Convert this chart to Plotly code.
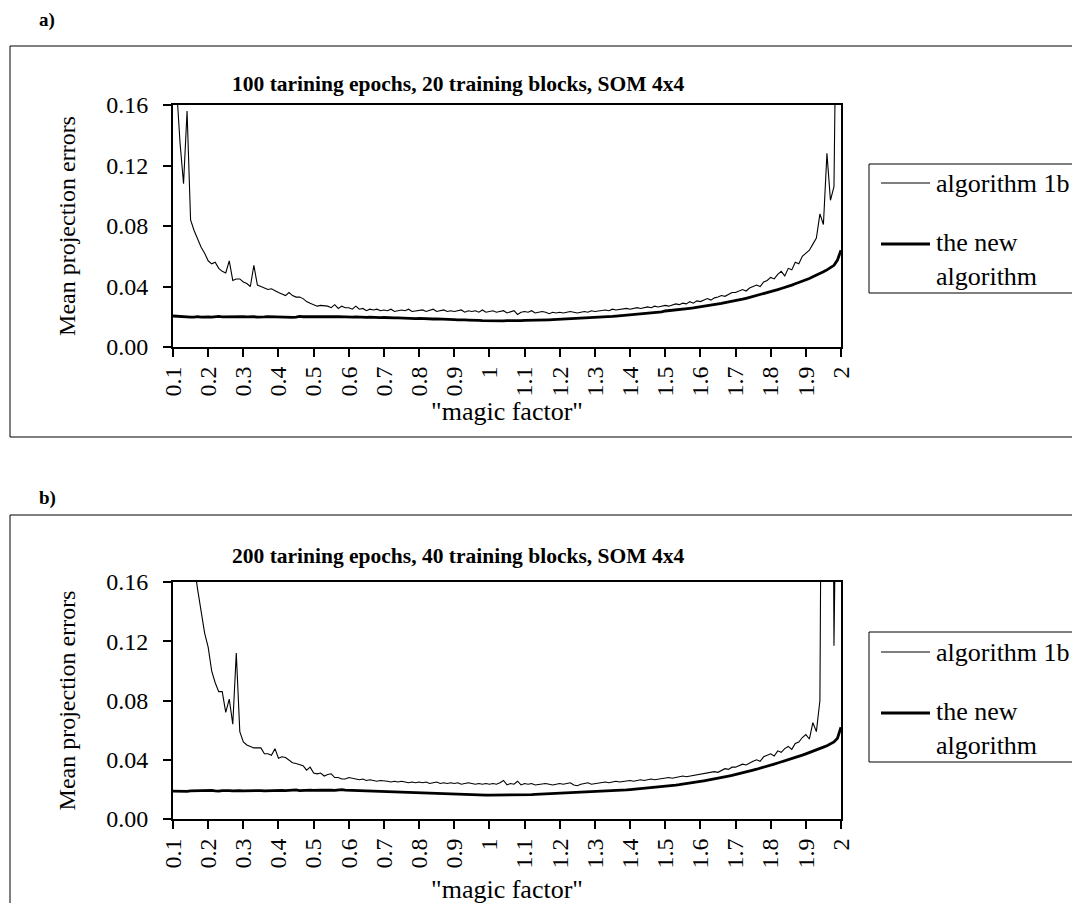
import plotly.graph_objects as go

# ---------------- data ----------------
magic_factor = [round(0.10 + 0.01 * i, 2) for i in range(191)]

tick_values = [0.1, 0.2, 0.3, 0.4, 0.5, 0.6, 0.7, 0.8, 0.9, 1.0,
               1.1, 1.2, 1.3, 1.4, 1.5, 1.6, 1.7, 1.8, 1.9, 2.0]
tick_labels = ["0.1", "0.2", "0.3", "0.4", "0.5", "0.6", "0.7", "0.8", "0.9", "1",
               "1.1", "1.2", "1.3", "1.4", "1.5", "1.6", "1.7", "1.8", "1.9", "2"]
y_ticks = [0.00, 0.04, 0.08, 0.12, 0.16]
y_labels = ["0.00", "0.04", "0.08", "0.12", "0.16"]

# panel a) 100 epochs, 20 blocks
alg1b_a = [
    0.200, 0.172, 0.135, 0.108, 0.156, 0.084, 0.077, 0.071, 0.066, 0.062,
    0.057, 0.055, 0.056, 0.052, 0.050, 0.049, 0.057, 0.044, 0.045, 0.045,
    0.043, 0.042, 0.040, 0.054, 0.041, 0.040, 0.039, 0.038, 0.0385, 0.037,
    0.036, 0.035, 0.034, 0.036, 0.034, 0.033, 0.033, 0.032, 0.030, 0.029,
    0.028, 0.027, 0.0275, 0.027, 0.027, 0.026, 0.028, 0.0255, 0.027, 0.026,
    0.026, 0.025, 0.027, 0.025, 0.0255, 0.024, 0.025, 0.0245, 0.025, 0.024,
    0.0245, 0.024, 0.025, 0.0235, 0.024, 0.0245, 0.024, 0.025, 0.0235, 0.024,
    0.024, 0.0245, 0.0235, 0.024, 0.025, 0.0235, 0.024, 0.0245, 0.0235, 0.024,
    0.0235, 0.024, 0.0245, 0.023, 0.024, 0.0235, 0.024, 0.023, 0.0245, 0.023,
    0.0235, 0.024, 0.023, 0.0235, 0.024, 0.0225, 0.023, 0.024, 0.0215, 0.023,
    0.0235, 0.023, 0.024, 0.0225, 0.023, 0.0235, 0.023, 0.022, 0.023, 0.0225,
    0.023, 0.0225, 0.023, 0.0235, 0.023, 0.0225, 0.023, 0.0235, 0.023, 0.024,
    0.0235, 0.024, 0.024, 0.0245, 0.024, 0.025, 0.0245, 0.025, 0.025, 0.0255,
    0.025, 0.0255, 0.026, 0.0255, 0.026, 0.0265, 0.026, 0.027, 0.0265, 0.027,
    0.0275, 0.027, 0.028, 0.0285, 0.028, 0.029, 0.0285, 0.030, 0.029, 0.0305,
    0.030, 0.031, 0.032, 0.031, 0.0325, 0.033, 0.034, 0.0335, 0.035, 0.036,
    0.036, 0.037, 0.038, 0.037, 0.039, 0.040, 0.041, 0.040, 0.043, 0.044,
    0.046, 0.045, 0.048, 0.050, 0.047, 0.052, 0.051, 0.056, 0.055, 0.060,
    0.062, 0.064, 0.068, 0.072, 0.088, 0.081, 0.128, 0.097, 0.106, 0.400,
    0.500,
]
new_a = [
    0.0205, 0.0203, 0.0200, 0.0198, 0.0200, 0.0197, 0.0198, 0.0201, 0.0198, 0.0200,
    0.0199, 0.0197, 0.0200, 0.0202, 0.0199, 0.0200, 0.0198, 0.0201, 0.0200, 0.0199,
    0.0200, 0.0199, 0.0201, 0.0200, 0.0198, 0.0197, 0.0199, 0.0201, 0.0200, 0.0202,
    0.0201, 0.0200, 0.0199, 0.0197, 0.0196, 0.0198, 0.0202, 0.0200, 0.0199, 0.0201,
    0.0200, 0.0199, 0.0200, 0.0201, 0.0199, 0.0198, 0.0200, 0.0201, 0.0199, 0.0200,
    0.0199, 0.0198, 0.0199, 0.0197, 0.0198, 0.0196, 0.0197, 0.0195, 0.0196, 0.0194,
    0.0195, 0.0193, 0.0194, 0.0192, 0.0193, 0.0191, 0.0190, 0.0191, 0.0189, 0.0188,
    0.0189, 0.0187, 0.0188, 0.0186, 0.0185, 0.0186, 0.0184, 0.0183, 0.0182, 0.0183,
    0.0181, 0.0180, 0.0181, 0.0179, 0.0178, 0.0179, 0.0177, 0.0176, 0.0175, 0.0174,
    0.0173, 0.0174, 0.0173, 0.0172, 0.0173, 0.0174, 0.0173, 0.0174, 0.0175, 0.0175,
    0.0176, 0.0176, 0.0177, 0.0178, 0.0178, 0.0179, 0.0180, 0.0180, 0.0181, 0.0182,
    0.0183, 0.0184, 0.0185, 0.0186, 0.0187, 0.0188, 0.0189, 0.0190, 0.0191, 0.0192,
    0.0195, 0.0196, 0.0198, 0.0199, 0.0201, 0.0202, 0.0204, 0.0206, 0.0207, 0.0209,
    0.0211, 0.0213, 0.0215, 0.0217, 0.0219, 0.0222, 0.0224, 0.0227, 0.0229, 0.0232,
    0.0238, 0.0240, 0.0243, 0.0245, 0.0248, 0.0251, 0.0254, 0.0256, 0.0259, 0.0262,
    0.0266, 0.0270, 0.0273, 0.0276, 0.0280, 0.0284, 0.0288, 0.0293, 0.0297, 0.0302,
    0.0307, 0.0312, 0.0316, 0.0322, 0.0328, 0.0333, 0.0339, 0.0346, 0.0352, 0.0358,
    0.0366, 0.0372, 0.0379, 0.0387, 0.0393, 0.0401, 0.0409, 0.0418, 0.0426, 0.0434,
    0.0444, 0.0453, 0.0464, 0.0474, 0.0486, 0.0497, 0.0510, 0.0525, 0.0540, 0.0575,
    0.0640,
]

# panel b) 200 epochs, 40 blocks
alg1b_b = [
    0.400, 0.330, 0.280, 0.240, 0.210, 0.190, 0.172, 0.155, 0.141, 0.1255,
    0.116, 0.100, 0.092, 0.086, 0.086, 0.072, 0.081, 0.064, 0.112, 0.059,
    0.052, 0.050, 0.049, 0.048, 0.048, 0.048, 0.044, 0.044, 0.043, 0.0475,
    0.041, 0.042, 0.0415, 0.040, 0.038, 0.0375, 0.037, 0.036, 0.033, 0.035,
    0.031, 0.0305, 0.031, 0.029, 0.030, 0.0305, 0.028, 0.028, 0.027, 0.027,
    0.028, 0.0275, 0.027, 0.0265, 0.027, 0.026, 0.0265, 0.026, 0.0255, 0.026,
    0.026, 0.0255, 0.025, 0.0255, 0.025, 0.0255, 0.025, 0.0245, 0.025, 0.0245,
    0.025, 0.0245, 0.025, 0.024, 0.0245, 0.025, 0.024, 0.0245, 0.024, 0.0245,
    0.024, 0.0245, 0.0235, 0.024, 0.0245, 0.024, 0.0235, 0.024, 0.0235, 0.024,
    0.0235, 0.024, 0.0235, 0.0245, 0.026, 0.023, 0.024, 0.0235, 0.0255, 0.023,
    0.024, 0.0235, 0.024, 0.023, 0.0235, 0.0235, 0.024, 0.0235, 0.023, 0.0235,
    0.024, 0.0235, 0.024, 0.0245, 0.023, 0.0225, 0.0235, 0.024, 0.0245, 0.0235,
    0.024, 0.0245, 0.0245, 0.025, 0.0245, 0.025, 0.0255, 0.025, 0.0255, 0.0255,
    0.026, 0.0255, 0.026, 0.0265, 0.026, 0.0265, 0.027, 0.0265, 0.027, 0.0275,
    0.0275, 0.028, 0.0275, 0.028, 0.0285, 0.029, 0.0285, 0.029, 0.0295, 0.030,
    0.030, 0.0305, 0.031, 0.0315, 0.032, 0.0315, 0.033, 0.034, 0.0335, 0.035,
    0.035, 0.036, 0.037, 0.0365, 0.038, 0.039, 0.040, 0.039, 0.042, 0.043,
    0.044, 0.0425, 0.046, 0.045, 0.0475, 0.049, 0.047, 0.051, 0.052, 0.055,
    0.057, 0.054, 0.065, 0.059, 0.080, 0.500, 0.600, 0.600, 0.117, 0.450,
    0.500,
]
new_b = [
    0.0188, 0.0187, 0.0189, 0.0188, 0.0187, 0.0190, 0.0191, 0.0192, 0.0190, 0.0189,
    0.0191, 0.0193, 0.0190, 0.0188, 0.0192, 0.0194, 0.0191, 0.0190, 0.0192, 0.0191,
    0.0190, 0.0191, 0.0192, 0.0191, 0.0193, 0.0192, 0.0190, 0.0191, 0.0193, 0.0195,
    0.0196, 0.0193, 0.0191, 0.0194, 0.0193, 0.0196, 0.0192, 0.0194, 0.0197, 0.0195,
    0.0193, 0.0196, 0.0195, 0.0194, 0.0197, 0.0195, 0.0193, 0.0196, 0.0198, 0.0195,
    0.0194, 0.0196, 0.0193, 0.0191, 0.0192, 0.0190, 0.0188, 0.0189, 0.0186, 0.0185,
    0.0186, 0.0184, 0.0183, 0.0182, 0.0183, 0.0181, 0.0180, 0.0179, 0.0178, 0.0177,
    0.0176, 0.0175, 0.0176, 0.0174, 0.0173, 0.0172, 0.0171, 0.0170, 0.0169, 0.0168,
    0.0167, 0.0166, 0.0165, 0.0165, 0.0164, 0.0163, 0.0163, 0.0162, 0.0162, 0.0161,
    0.0161, 0.0161, 0.0160, 0.0161, 0.0161, 0.0162, 0.0162, 0.0163, 0.0163, 0.0164,
    0.0164, 0.0165, 0.0165, 0.0166, 0.0167, 0.0168, 0.0168, 0.0169, 0.0170, 0.0171,
    0.0172, 0.0173, 0.0174, 0.0175, 0.0176, 0.0177, 0.0178, 0.0179, 0.0180, 0.0181,
    0.0182, 0.0184, 0.0185, 0.0186, 0.0188, 0.0189, 0.0191, 0.0192, 0.0194, 0.0196,
    0.0198, 0.0200, 0.0202, 0.0204, 0.0206, 0.0208, 0.0210, 0.0213, 0.0216, 0.0218,
    0.0221, 0.0224, 0.0226, 0.0229, 0.0232, 0.0235, 0.0238, 0.0242, 0.0245, 0.0249,
    0.0254, 0.0258, 0.0262, 0.0266, 0.0270, 0.0275, 0.0280, 0.0285, 0.0290, 0.0295,
    0.0300, 0.0306, 0.0312, 0.0318, 0.0324, 0.0330, 0.0336, 0.0342, 0.0350, 0.0357,
    0.0364, 0.0371, 0.0378, 0.0385, 0.0392, 0.0400, 0.0407, 0.0414, 0.0422, 0.0431,
    0.0440, 0.0448, 0.0456, 0.0465, 0.0475, 0.0485, 0.0495, 0.0507, 0.0520, 0.0545,
    0.0620,
]

series_names = ["algorithm 1b", "the new algorithm"]
titles = ["100 tarining epochs, 20 training blocks, SOM 4x4",
          "200 tarining epochs, 40 training blocks, SOM 4x4"]
panel_labels = ["a)", "b)"]

# ---------------- figure ----------------
W, H = 1080, 903
OFF = 8  # page body margin of the exported html
SERIF = "Liberation Serif"


def px(x):
    return (x - OFF) / W


def py(y):
    return 1 - (y - OFF) / H


fig = go.Figure()
panels = [
    dict(ax="", data=(alg1b_a, new_a), top=105, bottom=347, xstand=2),
    dict(ax="2", data=(alg1b_b, new_b), top=582, bottom=819, xstand=12),
]
for p in panels:
    fig.add_trace(go.Scatter(x=magic_factor, y=p["data"][0], mode="lines",
                             name=series_names[0], line=dict(color="black", width=1.1),
                             xaxis="x" + p["ax"], yaxis="y" + p["ax"]))
    fig.add_trace(go.Scatter(x=magic_factor, y=p["data"][1], mode="lines",
                             name=series_names[1], line=dict(color="black", width=2.8),
                             xaxis="x" + p["ax"], yaxis="y" + p["ax"]))

axis_common = dict(showline=True, linecolor="black", linewidth=2, mirror=True,
                   showgrid=False, zeroline=False, ticks="outside", ticklen=8,
                   tickwidth=1.5, tickcolor="black",
                   tickfont=dict(family=SERIF, size=24, color="black"))

layout = dict(width=W, height=H, margin=dict(l=0, r=0, t=0, b=0),
              paper_bgcolor="white", plot_bgcolor="white", showlegend=False)
for p in panels:
    xa = dict(axis_common, domain=[px(173), px(841)], range=[0.1, 2.0],
              tickvals=tick_values, ticktext=tick_labels, tickangle=-90,
              anchor="y" + p["ax"], automargin=False,
              title=dict(text='"magic factor"', standoff=p["xstand"],
                         font=dict(family=SERIF, size=26, color="black")))
    ya = dict(axis_common, domain=[py(p["bottom"]), py(p["top"])], range=[0, 0.16],
              tickvals=y_ticks, ticktext=y_labels, ticklabelstandoff=10,
              anchor="x" + p["ax"], automargin=False,
              title=dict(text="Mean projection errors", standoff=24,
                         font=dict(family=SERIF, size=24, color="black")))
    layout["xaxis" + p["ax"]] = xa
    layout["yaxis" + p["ax"]] = ya

fig.update_layout(**layout)

# outer frames
for (y0, y1) in [(46, 437), (515, 930)]:
    fig.add_shape(type="rect", xref="paper", yref="paper",
                  x0=px(10), x1=px(1100), y0=py(y1), y1=py(y0),
                  line=dict(color="black", width=1), fillcolor="rgba(0,0,0,0)")

# panel labels and titles
for lab, ly, title, ty in [(panel_labels[0], 20, titles[0], 84),
                           (panel_labels[1], 498, titles[1], 556)]:
    fig.add_annotation(text="<b>" + lab + "</b>", xref="paper", yref="paper",
                       x=px(37), y=py(ly), xanchor="left", yanchor="middle",
                       showarrow=False, font=dict(family=SERIF, size=19, color="black"))
    fig.add_annotation(text="<b>" + title + "</b>", xref="paper", yref="paper",
                       x=px(458), y=py(ty), xanchor="center", yanchor="middle",
                       showarrow=False, font=dict(family=SERIF, size=21.5, color="black"))

# legends (one box per panel)
for (bt, bb, l1, l2) in [(164, 293, 183, 244), (632, 762, 652, 713)]:
    fig.add_shape(type="rect", xref="paper", yref="paper",
                  x0=px(869), x1=px(1079), y0=py(bb), y1=py(bt),
                  line=dict(color="black", width=1), fillcolor="white")
    fig.add_shape(type="line", xref="paper", yref="paper",
                  x0=px(881), x1=px(930), y0=py(l1), y1=py(l1),
                  line=dict(color="black", width=1.1))
    fig.add_shape(type="line", xref="paper", yref="paper",
                  x0=px(881), x1=px(930), y0=py(l2), y1=py(l2),
                  line=dict(color="black", width=2.8))
    fig.add_annotation(text=series_names[0], xref="paper", yref="paper",
                       x=px(934), y=py(l1), xanchor="left", yanchor="middle",
                       showarrow=False, font=dict(family=SERIF, size=26, color="black"))
    fig.add_annotation(text="the new<br>algorithm", xref="paper", yref="paper",
                       x=px(934), y=py(l2 - 18), xanchor="left", yanchor="top",
                       align="left", showarrow=False,
                       font=dict(family=SERIF, size=26, color="black"))

fig.write_html("out.html")
